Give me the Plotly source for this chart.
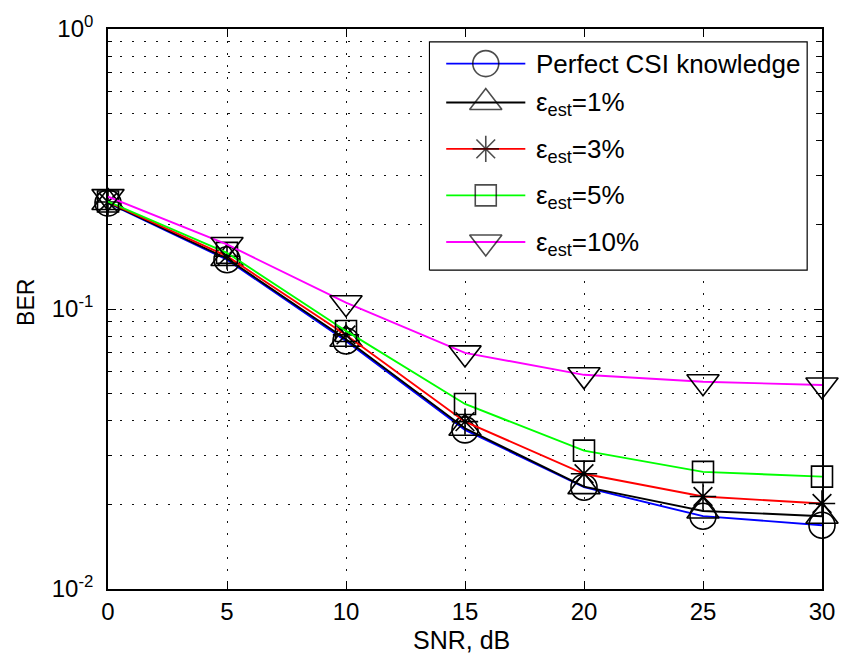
import plotly.graph_objects as go

# ---- data ----
snr = [0, 5, 10, 15, 20, 25, 30]
ber_perfect = [0.239, 0.150, 0.0769, 0.0370, 0.0231, 0.0182, 0.0169]
ber_est1 = [0.240, 0.1515, 0.0780, 0.0375, 0.0232, 0.0190, 0.0182]
ber_est3 = [0.241, 0.1544, 0.0808, 0.0396, 0.0258, 0.0214, 0.0202]
ber_est5 = [0.242, 0.1587, 0.0835, 0.0458, 0.0312, 0.0262, 0.0252]
ber_est10 = [0.252, 0.170, 0.1053, 0.0697, 0.0582, 0.0550, 0.0535]

series_names = ["Perfect CSI knowledge", "ε<sub>est</sub>=1%", "ε<sub>est</sub>=3%",
                "ε<sub>est</sub>=5%", "ε<sub>est</sub>=10%"]
series_values = [ber_perfect, ber_est1, ber_est3, ber_est5, ber_est10]
line_colors = ["#0000ff", "#000000", "#ff0000", "#00ff00", "#ff00ff"]
symbols = ["circle-open", "triangle-up-open", "asterisk-open", "square-open", "triangle-down-open"]
sizes = [26, 28, 22, 21, 28]

x_ticks = [0, 5, 10, 15, 20, 25, 30]
y_ticks = [0.01, 0.1, 1]
y_ticktext = ["10<sup>-2</sup>", "10<sup>-1</sup>", "10<sup>0</sup>"]
x_title = "SNR, dB"
y_title = "BER"

FONT = "Liberation Sans, Arial, sans-serif"
fig = go.Figure()

for name, vals, col, sym, sz in zip(series_names, series_values, line_colors, symbols, sizes):
    fig.add_trace(go.Scatter(
        x=snr, y=vals, mode="lines+markers", name=name, showlegend=False,
        line=dict(color=col, width=1.9),
        marker=dict(symbol=sym, size=sz, color="black", line=dict(color="black", width=1.6)),
        cliponaxis=False, xaxis="x", yaxis="y"))

# ---- custom legend drawn in a second (hidden) axes ----
L, R, T, B = 433, 815, 40, 269
fig.add_trace(go.Scatter(x=[L, R, R, L, L], y=[B, B, T, T, B], mode="lines", fill="toself",
                         fillcolor="white", line=dict(color="black", width=1.2),
                         showlegend=False, hoverinfo="skip", xaxis="x2", yaxis="y2"))
rows = [61.7, 100.7, 147.3, 194.0, 240.7]
for name, col, sym, sz, ry in zip(series_names, line_colors, symbols, sizes, rows):
    fig.add_trace(go.Scatter(
        x=[450, 490, 530], y=[ry, ry, ry], mode="lines+markers", showlegend=False,
        line=dict(color=col, width=1.9),
        marker=dict(symbol=sym, size=[0, sz, 0], color="black", line=dict(color="black", width=1.6)),
        hoverinfo="skip", xaxis="x2", yaxis="y2", cliponaxis=False))
    fig.add_annotation(x=539, y=ry + (0 if ry == rows[0] else 1.5), xref="x2", yref="y2",
                       text=name, showarrow=False, xanchor="left", yanchor="middle",
                       font=dict(family=FONT, size=26, color="black"))

# axis titles
fig.add_annotation(x=(465.5 - 108) / 722, y=(589 - 640) / 562, xref="paper", yref="paper",
                   text=x_title, showarrow=False, xanchor="center", yanchor="middle",
                   font=dict(family=FONT, size=25, color="black"))
fig.add_annotation(x=(25 - 108) / 722, y=(589 - 301) / 562, xref="paper", yref="paper",
                   text=y_title, showarrow=False, xanchor="center", yanchor="middle",
                   textangle=-90, font=dict(family=FONT, size=23, color="black"))

grid = dict(gridcolor="#111111", gridwidth=1, griddash="1.5px,10.5px")
fig.update_layout(
    width=847, height=663,
    margin=dict(l=108, r=17, t=27, b=74),
    paper_bgcolor="white", plot_bgcolor="white",
    font=dict(family=FONT, size=24, color="black"),
    showlegend=False,
    xaxis=dict(range=[0, 30], tickvals=x_ticks, ticks="inside", ticklen=8, tickwidth=1.2,
               tickcolor="black", showline=True, linecolor="black", linewidth=1.6,
               mirror="ticks", showgrid=True, zeroline=False, ticklabelstandoff=0,
               tickfont=dict(size=24), **grid),
    yaxis=dict(type="log", range=[-2, 0], tickvals=y_ticks, ticktext=y_ticktext,
               ticks="inside", ticklen=8, tickwidth=1.2, tickcolor="black",
               showline=True, linecolor="black", linewidth=1.6, mirror="ticks",
               showgrid=True, zeroline=False, ticklabelstandoff=8, tickfont=dict(size=24),
               minor=dict(tickvals=[m * d for d in (0.01, 0.1) for m in range(2, 10)],
                          ticks="inside", ticklen=4, tickcolor="black", tickwidth=1,
                          showgrid=True, **grid), **grid),
    xaxis2=dict(domain=[(L - 1 - 108) / 722, (R + 1 - 108) / 722], range=[L - 1, R + 1],
                visible=False, anchor="y2"),
    yaxis2=dict(domain=[(589 - B - 1) / 562, (589 - T + 1) / 562], range=[B + 1, T - 1],
                visible=False, anchor="x2"),
)
fig.write_html("out.html")
